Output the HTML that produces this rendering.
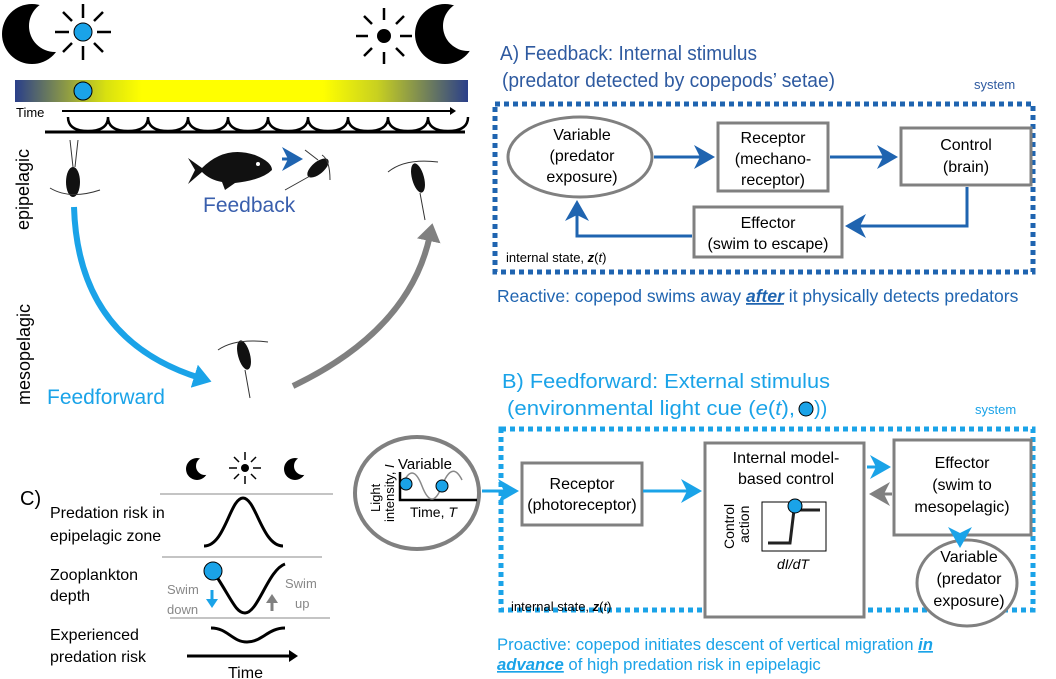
<!DOCTYPE html>
<html><head><meta charset="utf-8"><style>
html,body{margin:0;padding:0;background:#fff}
svg{display:block;font-family:"Liberation Sans",sans-serif}
</style></head><body>
<svg width="1056" height="679" viewBox="0 0 1056 679" xmlns="http://www.w3.org/2000/svg">
<defs>
<linearGradient id="g" x1="0" x2="1">
<stop offset="0" stop-color="#2a3f8a"/><stop offset="0.2" stop-color="#d8e010"/><stop offset="0.28" stop-color="#ffff00"/><stop offset="0.68" stop-color="#ffff00"/><stop offset="0.8" stop-color="#c8d020"/><stop offset="1" stop-color="#2a3f8a"/>
</linearGradient>
<marker id="ab" markerWidth="8" markerHeight="8" refX="6" refY="4" orient="auto" markerUnits="strokeWidth"><path d="M0,0 L7,4 L0,8 L2,4z" fill="#1f64b0"/></marker>
<marker id="al" markerWidth="8" markerHeight="8" refX="6" refY="4" orient="auto" markerUnits="strokeWidth"><path d="M0,0 L7,4 L0,8 L2,4z" fill="#1aa3e8"/></marker>
<marker id="ag" markerWidth="8" markerHeight="8" refX="6" refY="4" orient="auto" markerUnits="strokeWidth"><path d="M0,0 L7,4 L0,8 L2,4z" fill="#808080"/></marker>
<marker id="bl" markerWidth="4" markerHeight="4" refX="1" refY="2" orient="auto"><path d="M0,0 L3,2 L0,4z" fill="#1aa3e8"/></marker>
<marker id="gr" markerWidth="4" markerHeight="4" refX="1" refY="2" orient="auto"><path d="M0,0 L3,2 L0,4z" fill="#808080"/></marker>
<marker id="bk" markerWidth="4" markerHeight="4" refX="1" refY="2" orient="auto"><path d="M0,0 L3,2 L0,4z" fill="#000"/></marker>
</defs>

<!-- top icons -->
<circle cx="32" cy="34" r="30" fill="#000"/><circle cx="55" cy="26" r="26" fill="#fff"/>
<g stroke="#000" stroke-width="2.5"><line x1="83" y1="4" x2="83" y2="18"/><line x1="83" y1="46" x2="83" y2="60"/><line x1="55" y1="32" x2="69" y2="32"/><line x1="97" y1="32" x2="111" y2="32"/><line x1="63" y1="12" x2="72" y2="21"/><line x1="94" y1="43" x2="103" y2="52"/><line x1="103" y1="12" x2="94" y2="21"/><line x1="72" y1="43" x2="63" y2="52"/></g>
<circle cx="83" cy="32" r="9" fill="#1aa3e8" stroke="#000" stroke-width="1"/>
<g stroke="#000" stroke-width="2.5"><line x1="384" y1="8" x2="384" y2="20"/><line x1="384" y1="52" x2="384" y2="64"/><line x1="356" y1="36" x2="368" y2="36"/><line x1="400" y1="36" x2="412" y2="36"/><line x1="364" y1="16" x2="372" y2="24"/><line x1="396" y1="48" x2="404" y2="56"/><line x1="404" y1="16" x2="396" y2="24"/><line x1="372" y1="48" x2="364" y2="56"/></g>
<circle cx="384" cy="36" r="7" fill="#000"/>
<circle cx="445" cy="34" r="30" fill="#000"/><circle cx="468" cy="26" r="25" fill="#fff"/>
<rect x="15" y="80" width="453" height="22" fill="url(#g)"/>
<circle cx="83" cy="91" r="9" fill="#1aa3e8" stroke="#000" stroke-width="1"/>
<text x="16" y="117" font-size="13">Time</text>
<line x1="62" y1="111" x2="452" y2="111" stroke="#000" stroke-width="2" marker-end="url(#bk)"/>
<path d="M45,132 L465,132" stroke="#000" stroke-width="3"/>
<path d="M68,117 q0,14 20,14 q20,0 20,-14 q0,14 20,14 q20,0 20,-14 q0,14 20,14 q20,0 20,-14 q0,14 20,14 q20,0 20,-14 q0,14 20,14 q20,0 20,-14 q0,14 20,14 q20,0 20,-14 q0,14 20,14 q20,0 20,-14 q0,14 20,14 q20,0 20,-14 q0,14 20,14 q20,0 20,-14 q0,14 20,14 q20,0 20,-14" fill="none" stroke="#000" stroke-width="2.5"/>
<text transform="translate(29,230) rotate(-90)" font-size="18">epipelagic</text>
<text transform="translate(30,405) rotate(-90)" font-size="18">mesopelagic</text>
<!-- copepods -->
<ellipse cx="73" cy="182" rx="7" ry="15" fill="#111"/>
<path d="M50,188 Q70,200 100,190 M73,167 L70,140 M75,167 L78,140" stroke="#333" stroke-width="1" fill="none"/>
<ellipse cx="318" cy="168" rx="6" ry="13" transform="rotate(50 318 168)" fill="#111"/>
<path d="M322,155 Q330,160 330,180 M305,150 L318,160 M310,176 L285,190" stroke="#333" stroke-width="1" fill="none"/>
<ellipse cx="418" cy="178" rx="6" ry="15" transform="rotate(-15 418 178)" fill="#111"/>
<path d="M388,172 Q405,158 438,162 M420,193 L425,220" stroke="#333" stroke-width="1" fill="none"/>
<ellipse cx="244" cy="355" rx="6" ry="15" transform="rotate(-15 244 355)" fill="#111"/>
<path d="M218,350 Q235,338 268,342 M245,370 L250,398" stroke="#333" stroke-width="1" fill="none"/>
<!-- fish -->
<path d="M188,158 L202,168 Q225,145 255,155 Q272,162 272,170 Q262,180 235,183 L225,190 L222,182 Q210,180 202,172 L188,184 L195,170z" fill="#111"/>
<circle cx="258" cy="164" r="2" fill="#fff"/>
<line x1="282" y1="159" x2="300" y2="159" stroke="#1f64b0" stroke-width="3" marker-end="url(#ab)"/>
<text x="203" y="212" font-size="21" fill="#3a5fad">Feedback</text>
<path d="M74,207 Q78,340 200,378" fill="none" stroke="#1aa3e8" stroke-width="6" marker-end="url(#bl)"/>
<path d="M293,386 Q410,330 430,235" fill="none" stroke="#808080" stroke-width="6" marker-end="url(#gr)"/>
<text x="47" y="404" font-size="21" fill="#1aa3e8">Feedforward</text>

<!-- Panel A -->
<text x="500" y="60" font-size="20" fill="#2e5aa0" textLength="257" lengthAdjust="spacingAndGlyphs">A) Feedback: Internal stimulus</text>
<text x="502" y="87" font-size="20" fill="#2e5aa0" textLength="333" lengthAdjust="spacingAndGlyphs">(predator detected by copepods’ setae)</text>
<text x="974" y="89" font-size="13" fill="#2e5aa0">system</text>
<rect x="495" y="104" width="538" height="168" fill="none" stroke="#1f64b0" stroke-width="5" stroke-dasharray="5,4"/>
<ellipse cx="580" cy="157" rx="72" ry="40" fill="#fff" stroke="#808080" stroke-width="3"/>
<text font-size="16" text-anchor="middle"><tspan x="582" y="140">Variable</tspan><tspan x="582" y="161">(predator</tspan><tspan x="582" y="182">exposure)</tspan></text>
<rect x="718" y="123" width="110" height="68" fill="#fff" stroke="#808080" stroke-width="3"/>
<text font-size="16" text-anchor="middle"><tspan x="773" y="143">Receptor</tspan><tspan x="773" y="164">(mechano-</tspan><tspan x="773" y="185">receptor)</tspan></text>
<rect x="901" y="128" width="130" height="57" fill="#fff" stroke="#808080" stroke-width="3"/>
<text font-size="16" text-anchor="middle"><tspan x="966" y="150">Control</tspan><tspan x="966" y="172">(brain)</tspan></text>
<rect x="694" y="207" width="148" height="50" fill="#fff" stroke="#808080" stroke-width="3"/>
<text font-size="16" text-anchor="middle"><tspan x="768" y="228">Effector</tspan><tspan x="768" y="249">(swim to escape)</tspan></text>
<g stroke="#1f64b0" stroke-width="3" fill="none">
<line x1="654" y1="157" x2="712" y2="157" marker-end="url(#ab)"/>
<line x1="830" y1="157" x2="895" y2="157" marker-end="url(#ab)"/>
<path d="M967,187 V226 H848" marker-end="url(#ab)"/>
<path d="M692,236 H577 V203" marker-end="url(#ab)"/>
</g>
<text x="506" y="262" font-size="13">internal state, <tspan font-weight="bold" font-style="italic">z</tspan>(<tspan font-style="italic">t</tspan>)</text>
<text x="497" y="302" font-size="17.5" fill="#1f64b0">Reactive: copepod swims away <tspan font-weight="bold" font-style="italic" text-decoration="underline">after</tspan> it physically  detects predators</text>

<!-- Panel B -->
<text x="502" y="388" font-size="20" fill="#1aa3e8" textLength="328" lengthAdjust="spacingAndGlyphs">B) Feedforward: External stimulus</text>
<text x="507" y="415" font-size="20" fill="#1aa3e8" textLength="288" lengthAdjust="spacingAndGlyphs">(environmental light cue (<tspan font-style="italic">e</tspan>(<tspan font-style="italic">t</tspan>),</text>
<circle cx="806" cy="409" r="7" fill="#1aa3e8" stroke="#000"/>
<text x="814" y="415" font-size="20" fill="#1aa3e8">))</text>
<text x="975" y="414" font-size="13" fill="#1aa3e8">system</text>
<rect x="501" y="429" width="532" height="181" fill="none" stroke="#1aa3e8" stroke-width="5" stroke-dasharray="5,4"/>
<ellipse cx="417" cy="493" rx="62" ry="56" fill="#fff" stroke="#808080" stroke-width="4"/>
<text x="398" y="469" font-size="15">Variable</text>
<path d="M400,472 V500 H477" stroke="#000" stroke-width="2.5" fill="none"/>
<path d="M402,486 Q412,460 422,486 T442,486 T462,480" stroke="#888" stroke-width="1.5" fill="none"/>
<circle cx="406" cy="484" r="6" fill="#1aa3e8" stroke="#000"/><circle cx="442" cy="486" r="6" fill="#1aa3e8" stroke="#000"/>
<text x="410" y="517" font-size="14">Time, <tspan font-style="italic">T</tspan></text>
<text transform="translate(380,512) rotate(-90)" font-size="13">Light</text>
<text transform="translate(394,522) rotate(-90)" font-size="13">intensity, <tspan font-style="italic">I</tspan></text>
<rect x="522" y="463" width="120" height="62" fill="#fff" stroke="#808080" stroke-width="3"/>
<text font-size="16" text-anchor="middle"><tspan x="582" y="489">Receptor</tspan><tspan x="582" y="510">(photoreceptor)</tspan></text>
<rect x="705" y="443" width="159" height="174" fill="#fff" stroke="#808080" stroke-width="3"/>
<text font-size="16" text-anchor="middle"><tspan x="786" y="463">Internal model-</tspan><tspan x="786" y="484">based control</tspan></text>
<text transform="translate(734,549) rotate(-90)" font-size="14">Control</text>
<text transform="translate(749,543) rotate(-90)" font-size="14">action</text>
<rect x="762" y="502" width="64" height="49" fill="#fff" stroke="#000" stroke-width="1"/>
<path d="M768,543 H790 L794,510 H820" stroke="#222" stroke-width="3" fill="none"/>
<circle cx="795" cy="506" r="7" fill="#1aa3e8" stroke="#000"/>
<text x="777" y="569" font-size="14" font-style="italic">dI/dT</text>
<rect x="894" y="440" width="137" height="95" fill="#fff" stroke="#808080" stroke-width="3"/>
<text font-size="16" text-anchor="middle"><tspan x="962" y="468">Effector</tspan><tspan x="962" y="490">(swim to</tspan><tspan x="962" y="512">mesopelagic)</tspan></text>
<ellipse cx="967" cy="583" rx="50" ry="43" fill="#fff" stroke="#808080" stroke-width="3"/>
<text font-size="16" text-anchor="middle"><tspan x="969" y="562">Variable</tspan><tspan x="969" y="584">(predator</tspan><tspan x="969" y="606">exposure)</tspan></text>
<g stroke-width="3" fill="none">
<line x1="482" y1="491" x2="516" y2="491" stroke="#1aa3e8" marker-end="url(#al)"/>
<line x1="643" y1="491" x2="699" y2="491" stroke="#1aa3e8" marker-end="url(#al)"/>
<line x1="867" y1="467" x2="888" y2="467" stroke="#1aa3e8" marker-end="url(#al)"/>
<line x1="892" y1="494" x2="872" y2="494" stroke="#808080" marker-end="url(#ag)"/>
<line x1="960" y1="537" x2="960" y2="545" stroke="#1aa3e8" marker-end="url(#al)"/>
</g>
<text x="511" y="611" font-size="13">internal state, <tspan font-weight="bold" font-style="italic">z</tspan>(<tspan font-style="italic">t</tspan>)</text>
<text x="497" y="650" font-size="16.7" fill="#1aa3e8">Proactive: copepod initiates descent of vertical migration <tspan font-weight="bold" font-style="italic" text-decoration="underline">in</tspan></text>
<text x="497" y="670" font-size="16.7" fill="#1aa3e8"><tspan font-weight="bold" font-style="italic" text-decoration="underline">advance</tspan> of high predation risk in epipelagic</text>

<!-- Panel C -->
<text x="20" y="505" font-size="20">C)</text>
<circle cx="197" cy="469" r="11" fill="#000"/><circle cx="205" cy="466" r="9" fill="#fff"/>
<g stroke="#000" stroke-width="1.5"><line x1="245" y1="452" x2="245" y2="460"/><line x1="245" y1="476" x2="245" y2="484"/><line x1="229" y1="468" x2="237" y2="468"/><line x1="253" y1="468" x2="261" y2="468"/><line x1="234" y1="457" x2="239" y2="462"/><line x1="251" y1="474" x2="256" y2="479"/><line x1="256" y1="457" x2="251" y2="462"/><line x1="239" y1="474" x2="234" y2="479"/></g>
<circle cx="245" cy="468" r="4" fill="#000"/>
<circle cx="295" cy="469" r="11" fill="#000"/><circle cx="303" cy="466" r="9" fill="#fff"/>
<g stroke="#888" stroke-width="1"><line x1="160" y1="494" x2="333" y2="494"/><line x1="162" y1="557" x2="322" y2="557"/><line x1="170" y1="618" x2="330" y2="618"/></g>
<g font-size="16"><text x="50" y="518">Predation risk in</text><text x="50" y="541">epipelagic zone</text><text x="50" y="580">Zooplankton</text><text x="50" y="601">depth</text><text x="50" y="640">Experienced</text><text x="50" y="662">predation risk</text></g>
<path d="M204,546 C225,546 230,498 243,498 C256,498 262,546 283,546" stroke="#000" stroke-width="3" fill="none"/>
<path d="M215,574 C232,600 236,613 245,613 C258,613 268,570 285,564" stroke="#000" stroke-width="3" fill="none"/>
<circle cx="213" cy="571" r="9" fill="#1aa3e8" stroke="#000"/>
<text x="167" y="594" font-size="13" fill="#888">Swim</text><text x="167" y="614" font-size="13" fill="#888">down</text>
<line x1="212" y1="590" x2="212" y2="602" stroke="#1aa3e8" stroke-width="3" marker-end="url(#bl)"/>
<line x1="272" y1="611" x2="272" y2="600" stroke="#808080" stroke-width="3" marker-end="url(#gr)"/>
<text x="285" y="588" font-size="13" fill="#888">Swim</text><text x="295" y="608" font-size="13" fill="#888">up</text>
<path d="M211,628 C228,628 232,642 247,642 C262,642 268,628 285,628" stroke="#000" stroke-width="3" fill="none"/>
<line x1="187" y1="656" x2="292" y2="656" stroke="#000" stroke-width="3" marker-end="url(#bk)"/>
<text x="228" y="678" font-size="16">Time</text>
</svg>
</body></html>
